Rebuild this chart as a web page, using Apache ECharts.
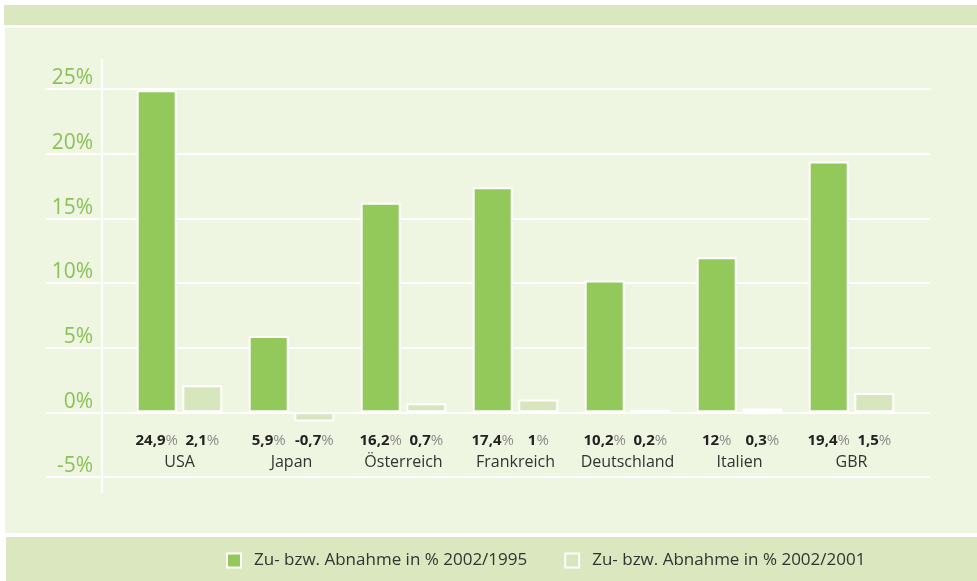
<!DOCTYPE html>
<html>
<head>
<meta charset="utf-8">
<script src="https://cdn.jsdelivr.net/npm/echarts@6/dist/echarts.min.js"></script>
<style>
html,body{margin:0;padding:0;background:#fff;}
#c{width:977px;height:581px;}
</style>
</head>
<body>
<div id="c"></div>
<script>
const categories = ['USA', 'Japan', 'Österreich', 'Frankreich', 'Deutschland', 'Italien', 'GBR'];
const change19952002 = [24.9, 5.9, 16.2, 17.4, 10.2, 12, 19.4];
const change20012002 = [2.1, -0.7, 0.7, 1, 0.2, 0.3, 1.5];
const seriesNames = ['Zu- bzw. Abnahme in % 2002/1995', 'Zu- bzw. Abnahme in % 2002/2001'];
const yMin = -5, yMax = 25, yStep = 5;

const FONT = '"Open Sans", "Noto Sans", sans-serif';
const fmt = v => String(v).replace('.', ',');

function makeData(arr) {
  return arr.map(v => ({ value: v, label: { position: v < 0 ? 'insideTop' : 'bottom' } }));
}

function barSeries(name, arr, color) {
  return {
    name: name,
    type: 'bar',
    xAxisIndex: 2,
    yAxisIndex: 2,
    barWidth: 40,
    barGap: '14%',
    data: makeData(arr),
    itemStyle: { color: color, borderColor: '#ffffff', borderWidth: 2 },
    label: {
      show: true,
      position: 'bottom',
      distance: 19,
      formatter: p => '{n|' + fmt(p.value) + '}{p|%}',
      rich: {
        n: { fontFamily: FONT, fontWeight: 'bold', fontSize: 15, color: '#222', lineHeight: 18 },
        p: { fontFamily: FONT, fontSize: 15, color: '#8c8c8c', lineHeight: 18 }
      }
    },
    emphasis: { disabled: true },
    silent: true
  };
}

const chart = echarts.init(document.getElementById('c'), null, { renderer: 'canvas' });
chart.setOption({
  animation: false,
  backgroundColor: '#ffffff',
  graphic: [
    { type: 'rect', z: -10, shape: { x: 4, y: 5, width: 973, height: 20 }, style: { fill: '#dbe7be' } },
    { type: 'rect', z: -10, shape: { x: 5, y: 28, width: 972, height: 505 }, style: { fill: '#eef5e0' } },
    { type: 'rect', z: -10, shape: { x: 6, y: 537, width: 971, height: 44 }, style: { fill: '#dbe7be' } }
  ],
  legend: {
    left: 226,
    top: 552,
    padding: 0,
    itemWidth: 14,
    itemHeight: 14,
    itemGap: 37,
    icon: 'rect',
    selectedMode: false,
    textStyle: { fontFamily: FONT, fontSize: 17, color: '#333', padding: [0, 0, 0, 8] },
    data: seriesNames
  },
  grid: [
    { left: 46, right: 47, top: 89, bottom: 104 },
    { left: 102, right: 47, top: 60, bottom: 89 },
    { left: 123.5, right: 69.5, top: 89, bottom: 104 }
  ],
  xAxis: [
    { gridIndex: 0, type: 'value', show: false },
    { gridIndex: 1, type: 'value', show: false },
    {
      gridIndex: 2,
      type: 'category',
      data: categories,
      axisLine: { show: false, onZero: false },
      axisTick: { show: false },
      axisLabel: { interval: 0, margin: -24, fontFamily: FONT, fontSize: 16, color: '#333', lineHeight: 18, verticalAlign: 'top' }
    }
  ],
  yAxis: [
    {
      gridIndex: 0,
      type: 'value',
      min: yMin, max: yMax, interval: yStep,
      offset: -56,
      axisLine: { show: false },
      axisTick: { show: false },
      splitLine: { show: true, lineStyle: { color: '#ffffff', width: 2 } },
      axisLabel: {
        formatter: '{value}%',
        margin: 9,
        align: 'right',
        verticalAlign: 'bottom',
        fontFamily: FONT,
        fontSize: 21,
        color: '#8cc15a'
      }
    },
    {
      gridIndex: 1,
      type: 'value',
      min: 0, max: 1,
      axisLine: { show: true, lineStyle: { color: '#ffffff', width: 2 } },
      axisTick: { show: false },
      axisLabel: { show: false },
      splitLine: { show: false }
    },
    { gridIndex: 2, type: 'value', min: yMin, max: yMax, interval: yStep, show: false, splitLine: { show: false } }
  ],
  series: [
    barSeries(seriesNames[0], change19952002, '#93c85b'),
    barSeries(seriesNames[1], change20012002, '#d7e6bc')
  ]
});
</script>
</body>
</html>
